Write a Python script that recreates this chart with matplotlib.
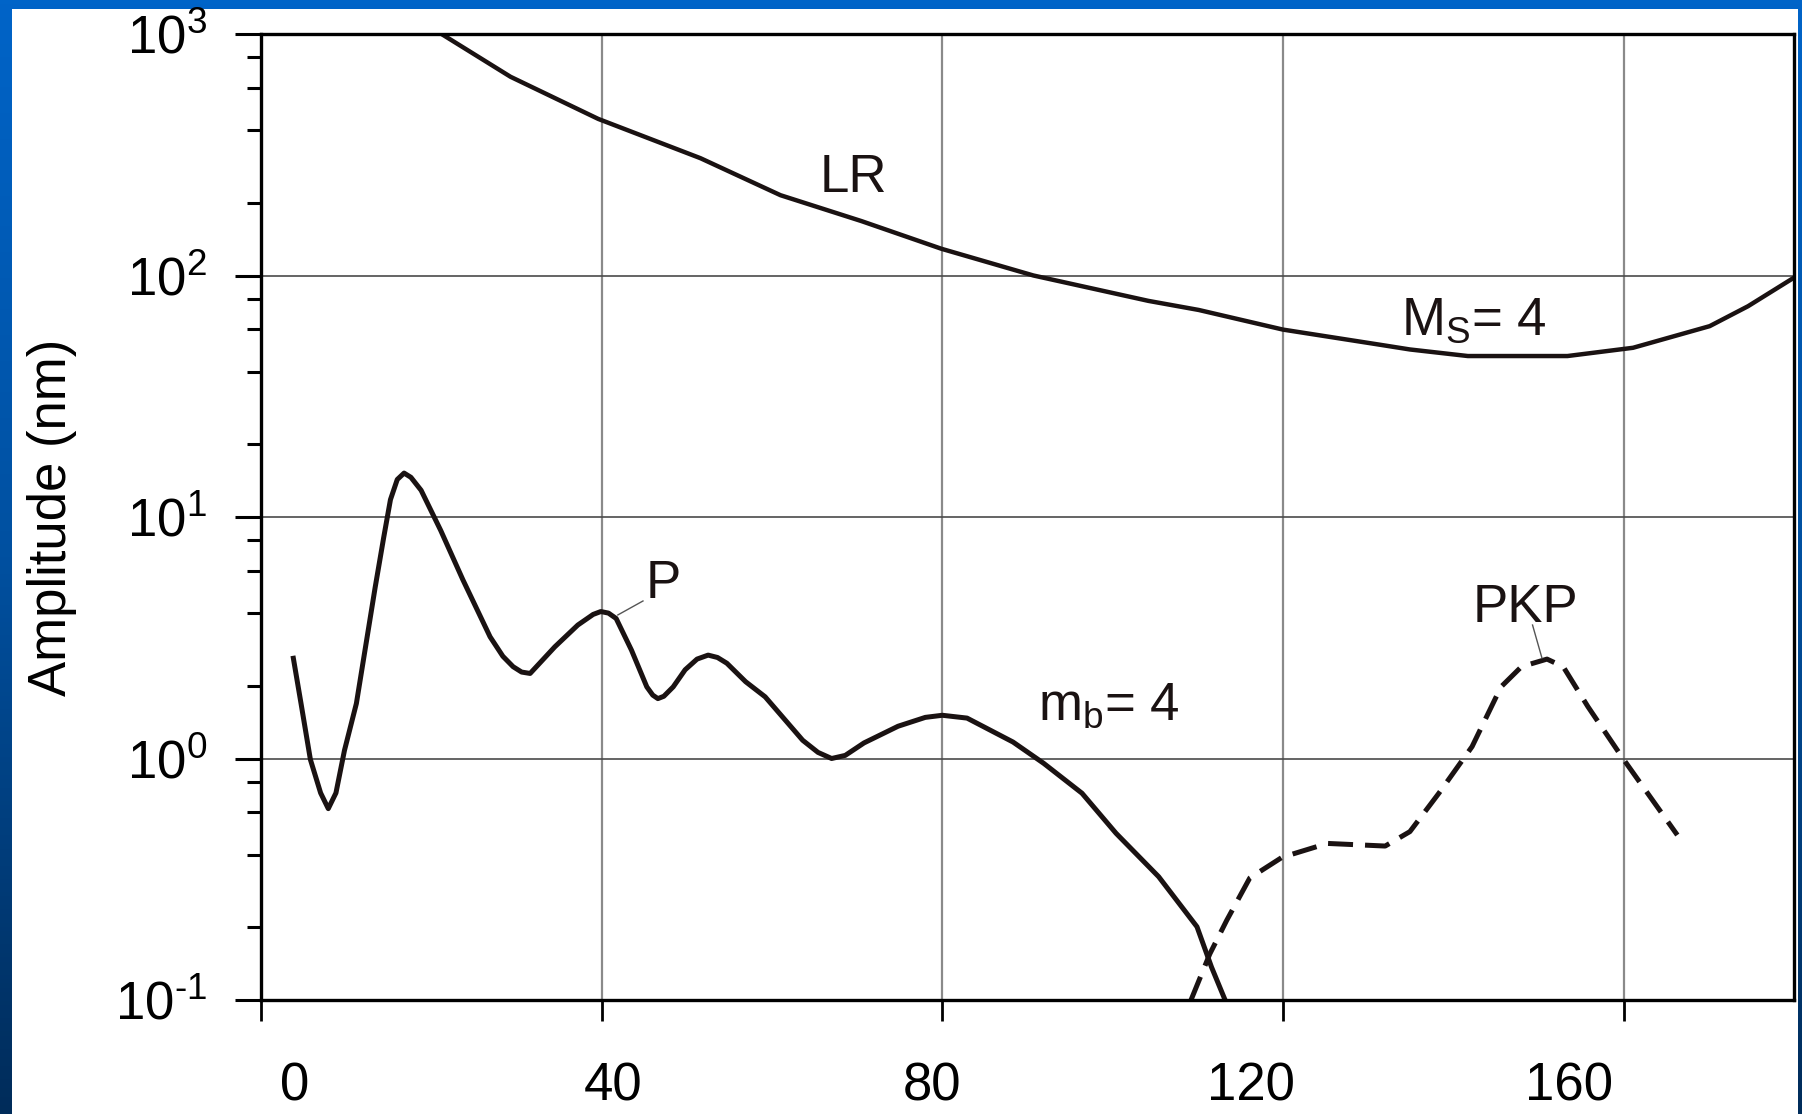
import matplotlib
matplotlib.use("Agg")
import matplotlib.pyplot as plt
import numpy as np
from matplotlib.patches import Rectangle
from matplotlib.colors import LinearSegmentedColormap
from matplotlib.ticker import LogLocator, NullFormatter, FixedLocator

plt.rcParams['font.family'] = ['Liberation Sans', 'DejaVu Sans']
plt.rcParams['mathtext.fontset'] = 'custom'
plt.rcParams['mathtext.rm'] = 'Liberation Sans'

# LR (surface wave) curve, Ms = 4
lr_dist = [21.2, 29.3, 39.6, 51.6, 61.0, 70.5, 79.9, 90.7, 104.2, 110.1,
           120.0, 131.2, 134.9, 141.7, 153.4, 161.1, 170.1, 174.6, 179.8]
lr_amp = [1000, 665, 445, 306, 215, 168, 129, 100, 78.5, 72,
          59.7, 51.8, 49.4, 46.4, 46.4, 50.2, 61.7, 74.6, 97]

# P-wave curve, mb = 4
p_dist = [3.8, 4.7, 5.8, 7.0, 7.9, 8.8, 9.8, 11.2, 13.4, 14.4, 15.2, 16.0, 16.8, 17.6,
          18.8, 21.1, 23.7, 26.9, 28.4, 29.6, 30.6, 31.6, 34.5, 37.2, 39.0, 39.9, 40.8,
          41.7, 43.5, 45.3, 46.0, 46.6, 47.3, 48.4, 49.8, 51.2, 52.5, 53.6, 54.7, 56.9,
          59.2, 63.6, 65.4, 67.0, 68.6, 70.8, 74.8, 78.0, 80.0, 82.9, 88.3, 91.9,
          96.4, 100.4, 105.4, 109.9, 111.6, 113.2]
p_amp = [2.6, 1.69, 0.99, 0.72, 0.62, 0.72, 1.08, 1.69, 5.1, 8.2, 11.8, 14.3, 15.2, 14.6,
         12.9, 8.8, 5.5, 3.19, 2.65, 2.4, 2.28, 2.25, 2.9, 3.57, 3.95, 4.06, 4.0,
         3.8, 2.81, 1.98, 1.83, 1.77, 1.81, 1.98, 2.33, 2.58, 2.68, 2.62, 2.48, 2.08,
         1.80, 1.19, 1.06, 1.0, 1.03, 1.16, 1.36, 1.48, 1.51, 1.47, 1.17, 0.955,
         0.718, 0.49, 0.324, 0.201, 0.137, 0.1]

# PKP curve (dashed)
pkp_dist = [109.2, 111.4, 113.4, 116.1, 119.9, 125.2, 132.0, 134.9, 138.3,
            142.2, 145.6, 148.0, 151.0, 152.9, 155.8, 160.0, 166.3]
pkp_amp = [0.1, 0.155, 0.214, 0.32, 0.39, 0.445, 0.434, 0.498, 0.718,
           1.12, 1.98, 2.40, 2.58, 2.40, 1.64, 0.99, 0.482]

x_ticks = [0, 40, 80, 120, 160]
y_ticks = [0.1, 1, 10, 100, 1000]
y_tick_labels = ['$\\mathregular{10^{\u20101}}$', '$\\mathregular{10^{0}}$',
                 '$\\mathregular{10^{1}}$', '$\\mathregular{10^{2}}$',
                 '$\\mathregular{10^{3}}$']
line_col = '#1a1212'

fig = plt.figure(figsize=(18.02, 11.14), dpi=100)

# slide background: blue gradient border with white panel
bg = fig.add_axes([0, 0, 1, 1], zorder=-10)
grad = np.linspace(0, 1, 256).reshape(-1, 1)
cmap = LinearSegmentedColormap.from_list('slide', ['#0064c8', '#0050a0', '#002c5a'])
bg.imshow(grad, aspect='auto', cmap=cmap, extent=[0, 1, 0, 1], origin='upper')
bg.add_patch(Rectangle((12 / 1802, 0), (1798 - 12) / 1802, 1 - 9 / 1114,
                       facecolor='white', edgecolor='none'))
bg.set_xlim(0, 1)
bg.set_ylim(0, 1)
bg.axis('off')

ax = fig.add_axes([261 / 1802, 114 / 1114, (1794 - 261) / 1802, (1000 - 34) / 1114])
ax.set_yscale('log')
ax.set_xlim(0, 180)
ax.set_ylim(0.1, 1000)

ax.plot(lr_dist, lr_amp, color=line_col, lw=3.2, solid_joinstyle='round')
ax.plot(p_dist, p_amp, color=line_col, lw=3.6, solid_joinstyle='round')
ax.plot(pkp_dist, pkp_amp, color=line_col, lw=3.6, linestyle=(0, (5.0, 2.4)))

# grid
for v in x_ticks[1:]:
    ax.axvline(v, color='#8a8a8a', lw=1.6, zorder=0)
for v in [1, 10, 100]:
    ax.axhline(v, color='#4a4a4a', lw=1.2, zorder=0)

# labels on curves
fs = 38
ax.text(65.6, 222, 'LR', fontsize=fs, ha='left', va='baseline', color=line_col)
ax.text(133.8, 56.8, r'M$_\mathregular{S}$= 4', fontsize=fs, ha='left', va='baseline',
        color=line_col)
ax.text(91.2, 1.44, r'm$_\mathregular{b}$= 4', fontsize=fs, ha='left', va='baseline',
        color=line_col)
ax.text(45.2, 4.6, 'P', fontsize=fs, ha='left', va='baseline', color=line_col)
ax.text(142.3, 3.68, 'PKP', fontsize=fs, ha='left', va='baseline', color=line_col)
ax.plot([41.9, 44.85], [3.93, 4.49], color='#555555', lw=1.0)
ax.plot([149.3, 150.4], [3.57, 2.61], color='#555555', lw=1.0)

# axes styling
for s in ax.spines.values():
    s.set_linewidth(2.4)
    s.set_color('black')
ax.set_xticks(x_ticks)
ax.set_xticklabels([])
ax.tick_params(axis='x', direction='out', length=15, width=2.0, color='black')
ax.yaxis.set_major_locator(FixedLocator(y_ticks))
ax.yaxis.set_minor_locator(LogLocator(base=10, subs=(2, 4, 6, 8)))
ax.yaxis.set_minor_formatter(NullFormatter())
ax.set_yticklabels(y_tick_labels)
ax.tick_params(axis='y', which='major', direction='out', length=19, width=2.2,
               pad=20, labelsize=fs)
ax.tick_params(axis='y', which='minor', direction='out', length=10, width=2.2)

# tick labels of the distance axis sit slightly off the tick marks in the original
sec = ax.secondary_xaxis('bottom', functions=(lambda x: 1.0696 * x - 4.266,
                                              lambda u: (u + 4.266) / 1.0696))
sec.set_xticks(x_ticks)
sec.tick_params(length=0, pad=44, labelsize=fs)
sec.spines['bottom'].set_visible(False)

ax.set_ylabel('Amplitude (nm)', fontsize=38)
ax.yaxis.set_label_coords(-(261 - 77) / (1794 - 261), 0.5)

fig.savefig('out.png', dpi=100, facecolor=fig.get_facecolor())
